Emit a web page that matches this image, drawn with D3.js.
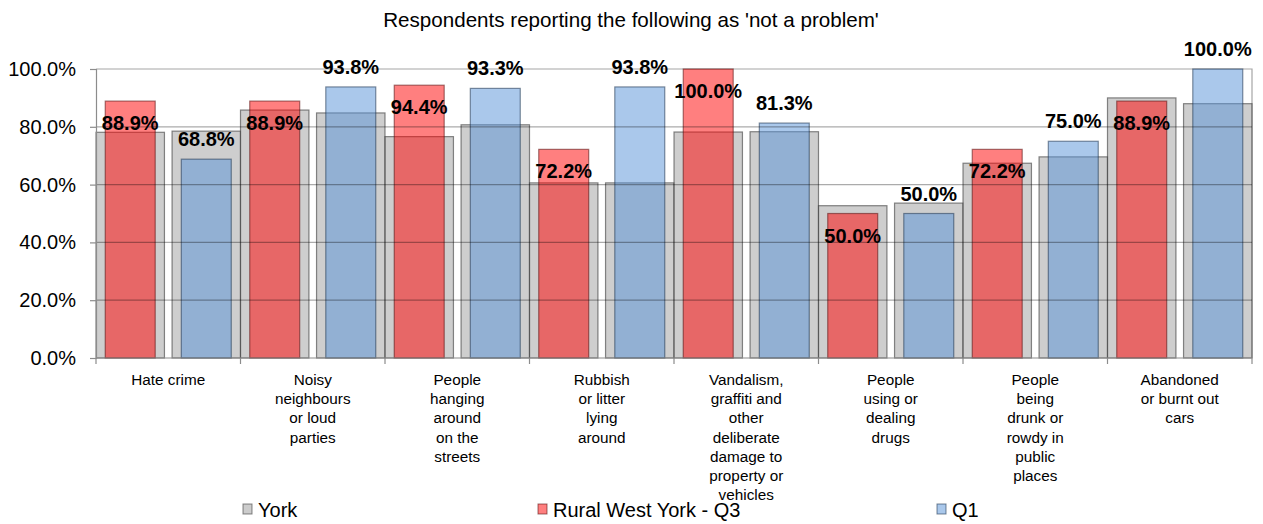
<!DOCTYPE html>
<html>
<head>
<meta charset="utf-8">
<script src="https://cdn.jsdelivr.net/npm/d3@7"></script>
<style>
  html, body { margin: 0; padding: 0; background: #fff; }
  svg { display: block; font-family: "Liberation Sans", Arial, sans-serif; }
</style>
</head>
<body>
<svg id="chart" width="1263" height="524"></svg>
<script>
const title = "Respondents reporting the following as 'not a problem'";
const categories = [
  "Hate crime",
  "Noisy neighbours or loud parties",
  "People hanging around on the streets",
  "Rubbish or litter lying around",
  "Vandalism, graffiti and other deliberate damage to property or vehicles",
  "People using or dealing drugs",
  "People being drunk or rowdy in public places",
  "Abandoned or burnt out cars"
];
const categoryLines = [
  ["Hate crime"],
  ["Noisy", "neighbours", "or loud", "parties"],
  ["People", "hanging", "around", "on the", "streets"],
  ["Rubbish", "or litter", "lying", "around"],
  ["Vandalism,", "graffiti and", "other", "deliberate", "damage to", "property or", "vehicles"],
  ["People", "using or", "dealing", "drugs"],
  ["People", "being", "drunk or", "rowdy in", "public", "places"],
  ["Abandoned", "or burnt out", "cars"]
];
const seriesNames = ["York", "Rural West York - Q3", "Q1"];
// York comparison value shown behind each bar
const yorkBehindQ3 = [78.1, 85.8, 76.6, 60.6, 78.2, 52.7, 67.4, 90.0];
const yorkBehindQ1 = [78.5, 84.8, 80.7, 60.6, 78.3, 53.6, 69.6, 88.0];
const ruralQ3 = [88.9, 88.9, 94.4, 72.2, 100.0, 50.0, 72.2, 88.9];
const q1 = [68.8, 93.8, 93.3, 93.8, 81.3, 50.0, 75.0, 100.0];
const yTicks = [0, 20, 40, 60, 80, 100];

const svg = d3.select("#chart");
const M = { left: 96, right: 1252, top: 69, bottom: 358 };

const x = d3.scaleBand().domain(categories).range([M.left, M.right]).padding(0);
const slot = d3.scaleBand().domain(["Q3", "Q1"]).range([0, x.bandwidth()]).paddingInner(0.1).paddingOuter(0);
const y = d3.scaleLinear().domain([0, 100]).range([M.bottom, M.top]);
const innerW = slot.bandwidth() * 0.73;

const greyData = [];
const colData = [];
categories.forEach((c, i) => {
  greyData.push({ c, s: "Q3", v: yorkBehindQ3[i] });
  greyData.push({ c, s: "Q1", v: yorkBehindQ1[i] });
  colData.push({ c, s: "Q3", v: ruralQ3[i] });
  colData.push({ c, s: "Q1", v: q1[i] });
});

// title
svg.append("text").attr("x", 631).attr("y", 27).attr("text-anchor", "middle")
  .attr("font-size", 20.6).attr("fill", "#000").text(title);

// plot border (top & right)
svg.append("path")
  .attr("d", `M${M.left},${M.top}H${M.right}V${M.bottom}`)
  .attr("fill", "none").attr("stroke", "#a6a6a6").attr("stroke-width", 1.2);

// York (grey) bars
svg.append("g").selectAll("rect").data(greyData).join("rect")
  .attr("x", d => x(d.c) + slot(d.s))
  .attr("width", slot.bandwidth())
  .attr("y", d => y(d.v))
  .attr("height", d => y(0) - y(d.v))
  .attr("fill", "#999999").attr("fill-opacity", 0.48)
  .attr("stroke", "#3a3a3a").attr("stroke-opacity", 0.6).attr("stroke-width", 1.2);

// Rural West York - Q3 and Q1 bars
svg.append("g").selectAll("rect").data(colData).join("rect")
  .attr("x", d => x(d.c) + slot(d.s) + (slot.bandwidth() - innerW) / 2)
  .attr("width", innerW)
  .attr("y", d => y(d.v))
  .attr("height", d => y(0) - y(d.v))
  .attr("fill", d => d.s === "Q3" ? "#ff0000" : "#5591d8").attr("fill-opacity", 0.5)
  .attr("stroke", d => d.s === "Q3" ? "#5a1010" : "#1f3550").attr("stroke-opacity", 0.55).attr("stroke-width", 1.2);

// gridlines (drawn over, semi-transparent so they darken bars)
svg.append("g").selectAll("line").data(yTicks.filter(t => t > 0 && t < 100)).join("line")
  .attr("x1", M.left).attr("x2", M.right)
  .attr("y1", d => y(d)).attr("y2", d => y(d))
  .attr("stroke", "#000").attr("stroke-opacity", 0.33).attr("stroke-width", 1.2);

// y axis
const yAxis = svg.append("g").attr("transform", `translate(${M.left},0)`)
  .call(d3.axisLeft(y).tickValues(yTicks).tickFormat(d => d.toFixed(1) + "%").tickSize(6).tickPadding(14));
yAxis.select(".domain").attr("stroke", "#8c8c8c").attr("stroke-width", 1.2);
yAxis.selectAll(".tick line").attr("stroke", "#8c8c8c").attr("stroke-width", 1.2);
yAxis.selectAll(".tick text").attr("font-size", 20).attr("font-family", "Liberation Sans, Arial, sans-serif").attr("fill", "#000");

// x axis line and ticks at category boundaries
svg.append("line").attr("x1", M.left).attr("x2", M.right).attr("y1", y(0)).attr("y2", y(0))
  .attr("stroke", "#8c8c8c").attr("stroke-width", 1.2);
const bounds = categories.map(c => x(c)).concat([x(categories[categories.length - 1]) + x.bandwidth()]);
svg.append("g").selectAll("line").data(bounds).join("line")
  .attr("x1", d => d).attr("x2", d => d).attr("y1", y(0)).attr("y2", y(0) + 6)
  .attr("stroke", "#8c8c8c").attr("stroke-width", 1.2);

// category labels
const catG = svg.append("g");
categories.forEach((c, i) => {
  const t = catG.append("text").attr("text-anchor", "middle").attr("font-size", 15.3).attr("fill", "#000")
    .attr("x", x(c) + x.bandwidth() / 2).attr("y", 385);
  categoryLines[i].forEach((ln, j) => {
    t.append("tspan").attr("x", x(c) + x.bandwidth() / 2).attr("y", 385 + j * 19.2).text(ln);
  });
});

// data labels
svg.append("g").selectAll("text").data(colData).join("text")
  .attr("x", d => x(d.c) + slot(d.s) + slot.bandwidth() / 2)
  .attr("y", d => d.s === "Q3" ? y(d.v) + 29 : y(d.v) - 13)
  .attr("text-anchor", "middle").attr("font-weight", "bold").attr("font-size", 20).attr("fill", "#000")
  .text(d => d.v.toFixed(1) + "%");

// legend
const legendX = [243, 538, 937];
const legendColors = [["#999999", "#3a3a3a"], ["#ff0000", "#5a1010"], ["#5591d8", "#1f3550"]];
seriesNames.forEach((n, i) => {
  svg.append("rect").attr("x", legendX[i]).attr("y", 504).attr("width", 9).attr("height", 10)
    .attr("fill", legendColors[i][0]).attr("fill-opacity", 0.5)
    .attr("stroke", legendColors[i][1]).attr("stroke-opacity", 0.6);
  svg.append("text").attr("x", legendX[i] + 15).attr("y", 517).attr("font-size", 20).attr("fill", "#000").text(n);
});
</script>
</body>
</html>
